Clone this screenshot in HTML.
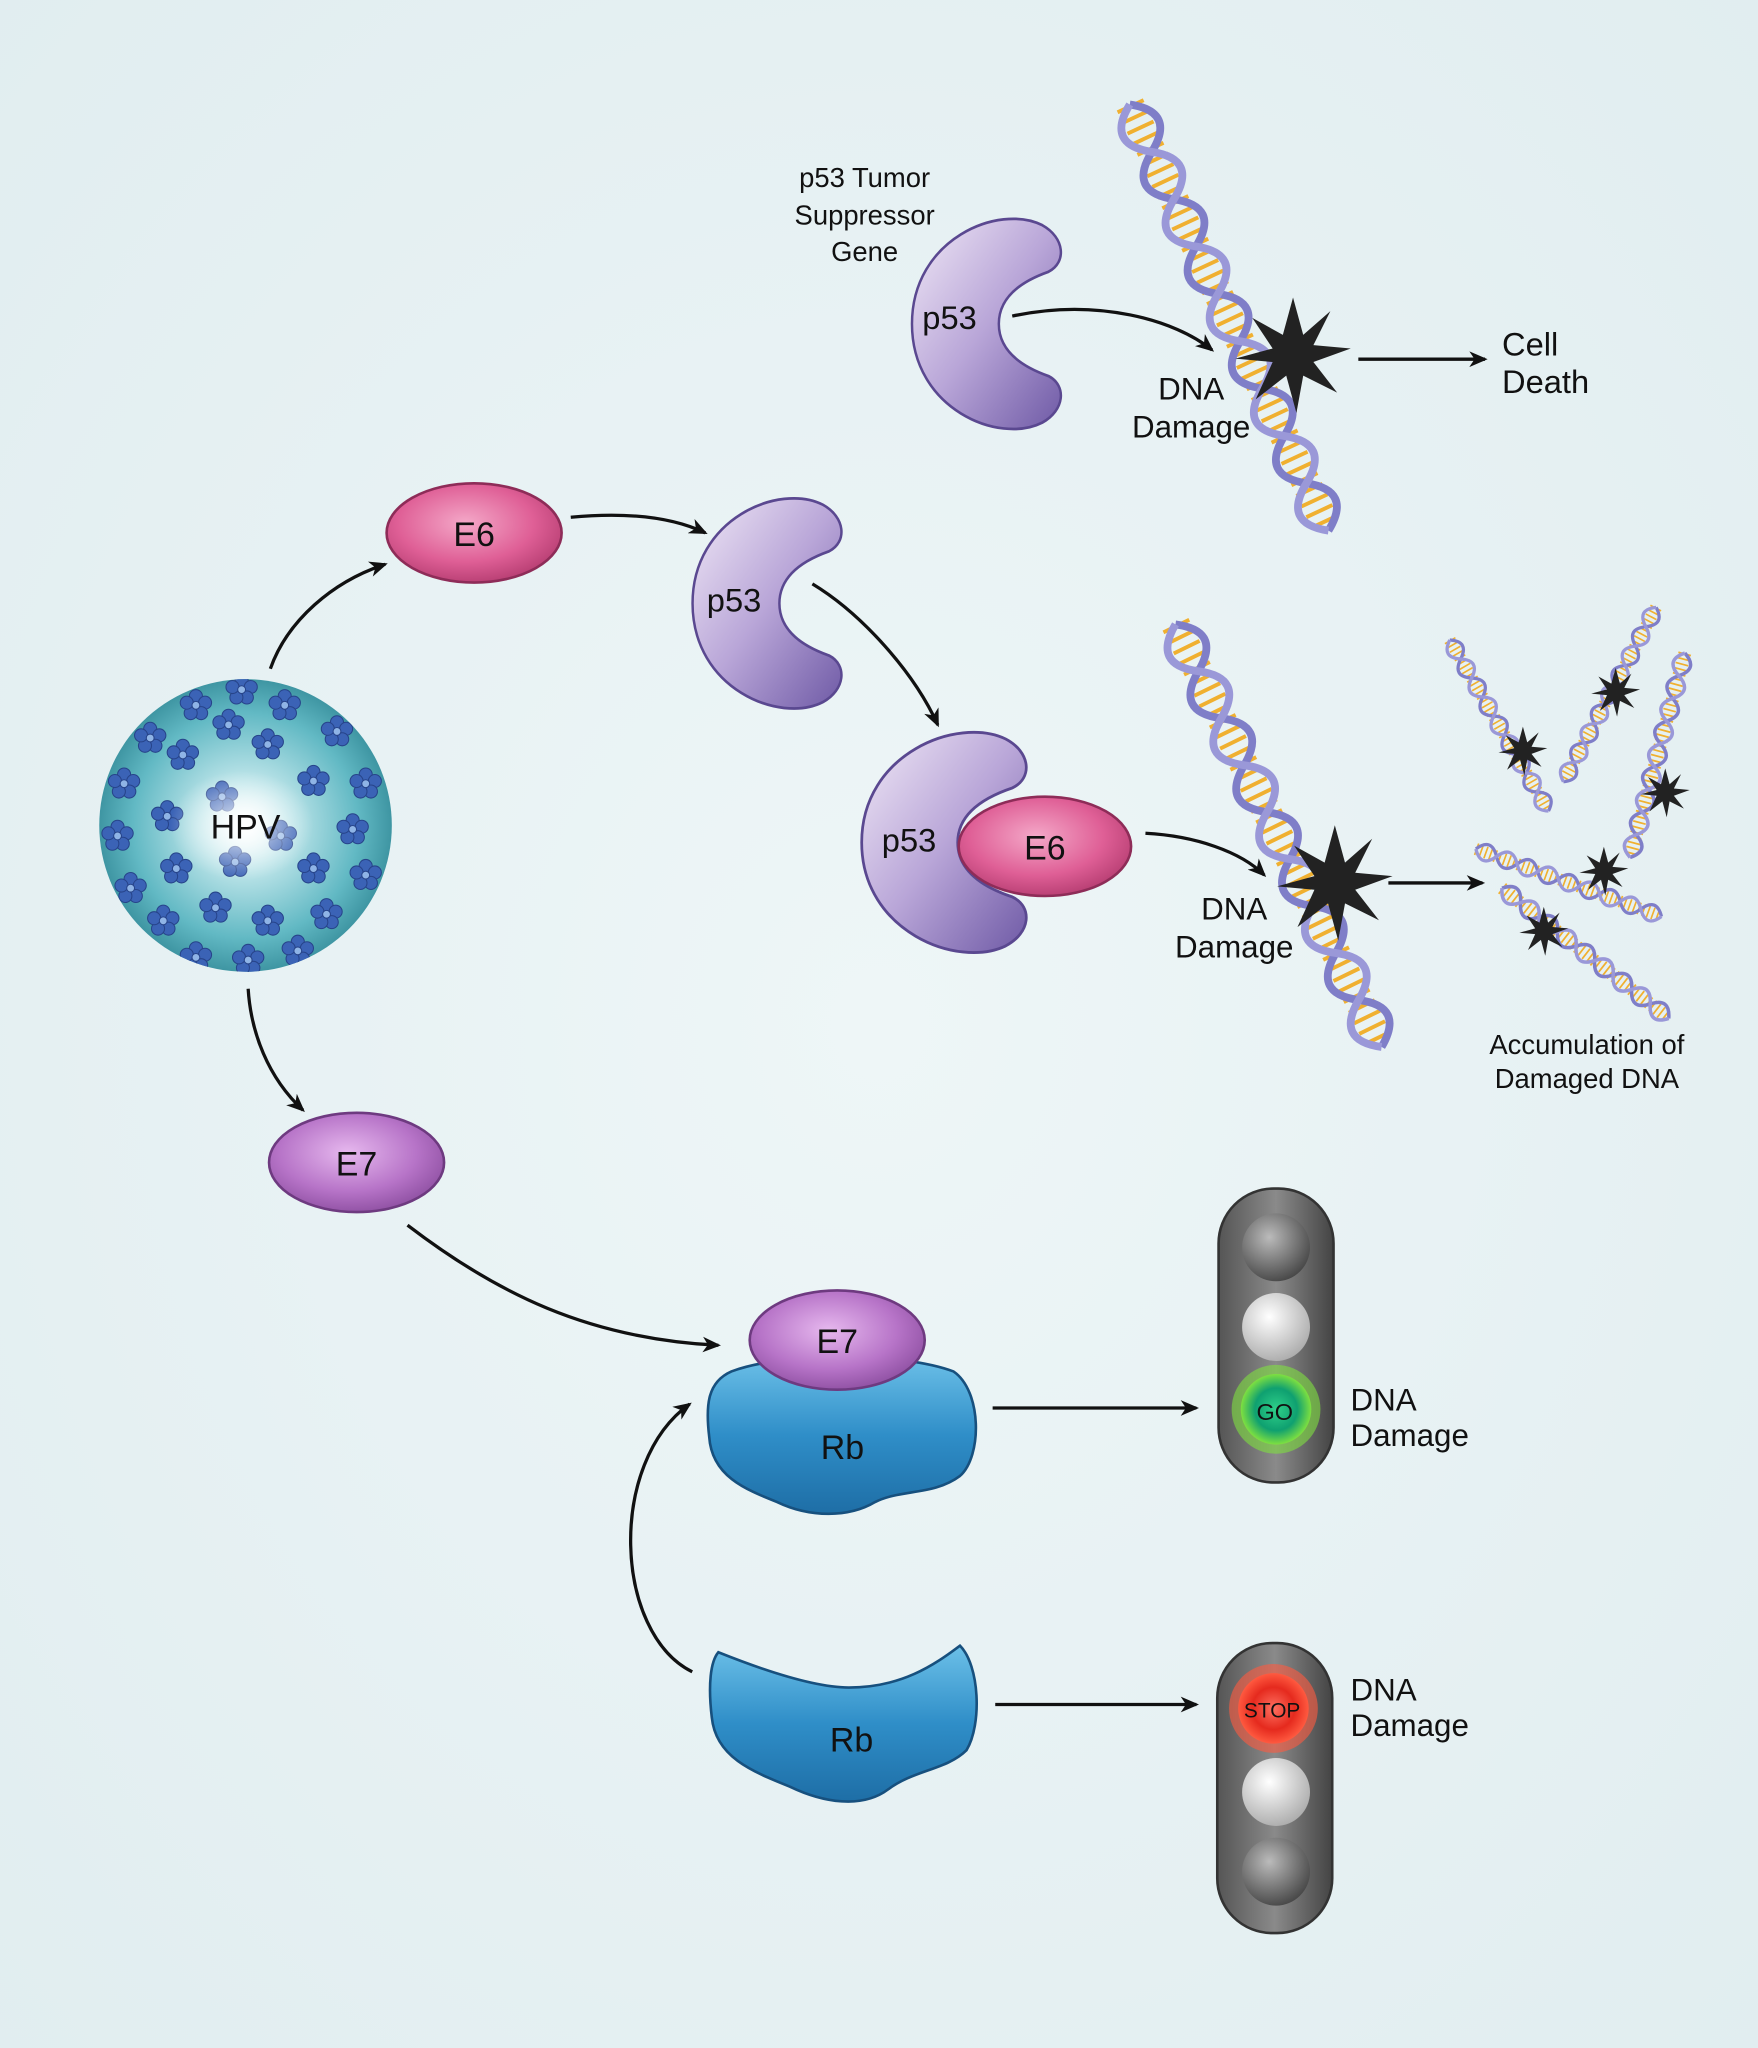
<!DOCTYPE html>
<html><head><meta charset="utf-8"><style>
html,body{margin:0;padding:0;background:#e7f1f3}
svg{display:block}
text{font-family:"Liberation Sans",sans-serif;fill:#111}
</style></head><body>
<svg width="1758" height="2048" viewBox="0 0 1346 1568" preserveAspectRatio="none" xmlns="http://www.w3.org/2000/svg">
<defs>
<radialGradient id="bg" cx="0.5" cy="0.5" r="0.8"><stop offset="0" stop-color="#eef6f7"/><stop offset="1" stop-color="#dfecef"/></radialGradient>
<linearGradient id="pg" x1="0" y1="0" x2="1" y2="1"><stop offset="0" stop-color="#f0e8f6"/><stop offset="0.5" stop-color="#b9a6d8"/><stop offset="1" stop-color="#6f5aa6"/></linearGradient>
<radialGradient id="e6g" cx="0.45" cy="0.4" r="0.65"><stop offset="0" stop-color="#f4a8c8"/><stop offset="0.6" stop-color="#df5f96"/><stop offset="1" stop-color="#b23a6e"/></radialGradient>
<radialGradient id="e7g" cx="0.45" cy="0.4" r="0.65"><stop offset="0" stop-color="#e6b8ee"/><stop offset="0.6" stop-color="#b774c8"/><stop offset="1" stop-color="#8a4c9e"/></radialGradient>
<linearGradient id="rbg" x1="0" y1="0" x2="0" y2="1"><stop offset="0" stop-color="#6cc0e8"/><stop offset="0.5" stop-color="#2f8ec8"/><stop offset="1" stop-color="#1e6ea6"/></linearGradient>
<radialGradient id="hpv" cx="0.5" cy="0.5" r="0.55"><stop offset="0" stop-color="#ffffff"/><stop offset="0.25" stop-color="#c4e8ec"/><stop offset="0.7" stop-color="#62b9c4"/><stop offset="1" stop-color="#2f8694"/></radialGradient>
<radialGradient id="blob" cx="0.5" cy="0.5" r="0.5"><stop offset="0" stop-color="#fff" stop-opacity="0.9"/><stop offset="1" stop-color="#fff" stop-opacity="0"/></radialGradient>
<linearGradient id="tl" x1="0" y1="0" x2="1" y2="0"><stop offset="0" stop-color="#555"/><stop offset="0.5" stop-color="#8a8a8a"/><stop offset="1" stop-color="#444"/></linearGradient>
<radialGradient id="grey" cx="0.4" cy="0.35" r="0.7"><stop offset="0" stop-color="#bbb"/><stop offset="1" stop-color="#444"/></radialGradient>
<radialGradient id="white" cx="0.4" cy="0.35" r="0.7"><stop offset="0" stop-color="#fff"/><stop offset="1" stop-color="#aaa"/></radialGradient>
<radialGradient id="green" cx="0.5" cy="0.5" r="0.5"><stop offset="0" stop-color="#2fd08a"/><stop offset="0.6" stop-color="#0fa070"/><stop offset="1" stop-color="#7ee040"/></radialGradient>
<radialGradient id="red" cx="0.5" cy="0.5" r="0.5"><stop offset="0" stop-color="#ff7060"/><stop offset="0.6" stop-color="#e52a1e"/><stop offset="1" stop-color="#ff5a40"/></radialGradient>
<marker id="ah" markerWidth="14" markerHeight="12" refX="12" refY="6" orient="auto" markerUnits="userSpaceOnUse"><path d="M0,0 L14,6 L0,12 L4,6 Z" fill="#111"/></marker>
<g id="helix">
<line x1="0" y1="0" x2="360" y2="0" stroke="#f0b030" stroke-width="22" stroke-dasharray="3 6"/>
<path d="M0,0 Q20,-30 40,0 T80,0 T120,0 T160,0 T200,0 T240,0 T280,0 T320,0 T360,0" fill="none" stroke="#7f7ec8" stroke-width="6"/>
<path d="M0,0 Q20,30 40,0 T80,0 T120,0 T160,0 T200,0 T240,0 T280,0 T320,0 T360,0" fill="none" stroke="#9a98d8" stroke-width="6"/>
</g>
<polygon id="star" points="0,-34 6,-12 22,-26 12,-6 34,-4 12,4 26,22 6,12 2,34 -4,12 -22,26 -12,4 -34,2 -12,-4 -24,-22 -6,-12" fill="#222"/>
<path id="p53" d="M40,-72 C5,-88 -65,-62 -65,0 C-65,62 5,88 40,72 C58,63 60,45 45,38 C20,30 5,18 5,0 C5,-18 20,-30 45,-38 C60,-45 58,-63 40,-72 Z" fill="url(#pg)" stroke="#5a4890" stroke-width="2"/>
<g id="flw"><circle cx="0" cy="-7" r="5"/><circle cx="7" cy="-2" r="5"/><circle cx="4" cy="6" r="5"/><circle cx="-4" cy="6" r="5"/><circle cx="-7" cy="-2" r="5"/><circle cx="0" cy="0" r="3" fill="#8fb4e6"/></g>
<clipPath id="hc"><circle cx="188" cy="632" r="112"/></clipPath>
</defs>
<rect width="1346" height="1568" fill="url(#bg)"/>

<text x="662" y="143" font-size="21" text-anchor="middle">p53 Tumor</text>
<text x="662" y="172" font-size="21" text-anchor="middle">Suppressor</text>
<text x="662" y="200" font-size="21" text-anchor="middle">Gene</text>
<use href="#p53" transform="translate(760,248) scale(0.95,1.05)"/>
<text x="727" y="252" font-size="25" text-anchor="middle">p53</text>
<path d="M775,242 C840,228 900,245 928,268" fill="none" stroke="#111" stroke-width="2.5" marker-end="url(#ah)"/>
<use href="#helix" transform="translate(865,80) rotate(65)"/>
<use href="#star" transform="translate(990,272) scale(1.3)"/>
<text x="912" y="306" font-size="24" text-anchor="middle">DNA</text>
<text x="912" y="335" font-size="24" text-anchor="middle">Damage</text>
<line x1="1040" y1="275" x2="1137" y2="275" stroke="#111" stroke-width="2.5" marker-end="url(#ah)"/>
<text x="1150" y="272" font-size="25">Cell</text>
<text x="1150" y="301" font-size="25">Death</text>

<ellipse cx="363" cy="408" rx="67" ry="38" fill="url(#e6g)" stroke="#8e2c58" stroke-width="2"/>
<text x="363" y="418" font-size="26" text-anchor="middle">E6</text>
<path d="M437,396 C480,392 515,396 540,408" fill="none" stroke="#111" stroke-width="2.5" marker-end="url(#ah)"/>
<use href="#p53" transform="translate(592,462) scale(0.95,1.05)"/>
<text x="562" y="468" font-size="25" text-anchor="middle">p53</text>
<path d="M622,447 C660,470 700,515 718,555" fill="none" stroke="#111" stroke-width="2.5" marker-end="url(#ah)"/>

<use href="#p53" transform="translate(728,645) scale(1.05,1.1)"/>
<text x="696" y="652" font-size="25" text-anchor="middle">p53</text>
<ellipse cx="800" cy="648" rx="66" ry="38" fill="url(#e6g)" stroke="#8e2c58" stroke-width="2"/>
<text x="800" y="658" font-size="26" text-anchor="middle">E6</text>
<path d="M877,638 C915,640 950,652 968,670" fill="none" stroke="#111" stroke-width="2.5" marker-end="url(#ah)"/>
<use href="#helix" transform="translate(900,478) rotate(64)"/>
<use href="#star" transform="translate(1022,676) scale(1.3)"/>
<text x="945" y="704" font-size="24" text-anchor="middle">DNA</text>
<text x="945" y="733" font-size="24" text-anchor="middle">Damage</text>
<line x1="1063" y1="676" x2="1135" y2="676" stroke="#111" stroke-width="2.5" marker-end="url(#ah)"/>

<use href="#helix" transform="translate(1110,490) rotate(60) scale(0.42)"/>
<use href="#star" transform="translate(1166,575) scale(0.55)"/>
<use href="#helix" transform="translate(1268,465) rotate(118) scale(0.42)"/>
<use href="#star" transform="translate(1237,530) scale(0.55)"/>
<use href="#helix" transform="translate(1290,500) rotate(105) scale(0.45)"/>
<use href="#star" transform="translate(1275,607) scale(0.55)"/>
<use href="#helix" transform="translate(1130,650) rotate(20) scale(0.42)"/>
<use href="#star" transform="translate(1228,667) scale(0.55)"/>
<use href="#helix" transform="translate(1150,680) rotate(38) scale(0.45)"/>
<use href="#star" transform="translate(1182,713) scale(0.55)"/>
<text x="1215" y="807" font-size="21" text-anchor="middle">Accumulation of</text>
<text x="1215" y="833" font-size="21" text-anchor="middle">Damaged DNA</text>

<circle cx="188" cy="632" r="112" fill="url(#hpv)"/>
<g clip-path="url(#hc)" fill="#3b63b6" stroke="#27448a" stroke-width="0.8">
<use href="#flw" x="150" y="540"/><use href="#flw" x="185" y="528"/><use href="#flw" x="218" y="540"/><use href="#flw" x="115" y="565"/><use href="#flw" x="258" y="560"/>
<use href="#flw" x="95" y="600"/><use href="#flw" x="140" y="578"/><use href="#flw" x="205" y="570"/><use href="#flw" x="240" y="598"/><use href="#flw" x="280" y="600"/>
<use href="#flw" x="90" y="640"/><use href="#flw" x="128" y="625"/><use href="#flw" x="270" y="635"/><use href="#flw" x="100" y="680"/><use href="#flw" x="135" y="665"/>
<use href="#flw" x="240" y="665"/><use href="#flw" x="280" y="670"/><use href="#flw" x="125" y="705"/><use href="#flw" x="165" y="695"/><use href="#flw" x="205" y="705"/>
<use href="#flw" x="250" y="700"/><use href="#flw" x="150" y="733"/><use href="#flw" x="190" y="735"/><use href="#flw" x="228" y="728"/><use href="#flw" x="175" y="555"/><use href="#flw" x="265" y="528"/>
<use href="#flw" x="170" y="610"/><use href="#flw" x="215" y="640"/><use href="#flw" x="180" y="660"/>
</g>
<ellipse cx="185" cy="632" rx="55" ry="42" fill="url(#blob)"/>
<text x="188" y="642" font-size="26" text-anchor="middle">HPV</text>
<path d="M207,512 C220,475 255,445 295,432" fill="none" stroke="#111" stroke-width="2.5" marker-end="url(#ah)"/>
<path d="M190,757 C192,790 205,825 232,850" fill="none" stroke="#111" stroke-width="2.5" marker-end="url(#ah)"/>

<ellipse cx="273" cy="890" rx="67" ry="38" fill="url(#e7g)" stroke="#6e3a80" stroke-width="2"/>
<text x="273" y="900" font-size="26" text-anchor="middle">E7</text>
<path d="M312,938 C380,990 450,1025 550,1030" fill="none" stroke="#111" stroke-width="2.5" marker-end="url(#ah)"/>

<path d="M560,1050 C600,1035 690,1035 730,1050 C752,1065 752,1115 735,1130 C715,1145 690,1140 670,1150 C650,1162 620,1162 595,1150 C570,1140 545,1130 543,1100 C540,1075 542,1058 560,1050 Z" fill="url(#rbg)" stroke="#17507e" stroke-width="2"/>
<text x="645" y="1117" font-size="26" text-anchor="middle">Rb</text>
<ellipse cx="641" cy="1026" rx="67" ry="38" fill="url(#e7g)" stroke="#6e3a80" stroke-width="2"/>
<text x="641" y="1036" font-size="26" text-anchor="middle">E7</text>
<line x1="760" y1="1078" x2="916" y2="1078" stroke="#111" stroke-width="2.5" marker-end="url(#ah)"/>

<rect x="933" y="910" width="88" height="225" rx="42" fill="url(#tl)" stroke="#333" stroke-width="2"/>
<circle cx="977" cy="955" r="26" fill="url(#grey)"/>
<circle cx="977" cy="1016" r="26" fill="url(#white)"/>
<circle cx="977" cy="1079" r="34" fill="#7ee040" opacity="0.6"/>
<circle cx="977" cy="1079" r="27" fill="url(#green)"/>
<text x="976" y="1087" font-size="18" text-anchor="middle">GO</text>
<text x="1034" y="1080" font-size="24">DNA</text>
<text x="1034" y="1107" font-size="24">Damage</text>

<path d="M530,1280 C470,1250 465,1120 528,1075" fill="none" stroke="#111" stroke-width="2.5" marker-end="url(#ah)"/>

<path d="M550,1265 C575,1275 620,1292 650,1292 C690,1292 715,1275 735,1260 C750,1275 752,1320 740,1340 C725,1355 700,1355 680,1370 C660,1385 630,1380 605,1368 C575,1356 548,1345 545,1315 C542,1290 544,1272 550,1265 Z" fill="url(#rbg)" stroke="#17507e" stroke-width="2"/>
<text x="652" y="1341" font-size="26" text-anchor="middle">Rb</text>
<line x1="762" y1="1305" x2="916" y2="1305" stroke="#111" stroke-width="2.5" marker-end="url(#ah)"/>

<rect x="932" y="1258" width="88" height="222" rx="42" fill="url(#tl)" stroke="#333" stroke-width="2"/>
<circle cx="975" cy="1308" r="34" fill="#ff5a40" opacity="0.6"/>
<circle cx="975" cy="1308" r="27" fill="url(#red)"/>
<text x="974" y="1315" font-size="16" text-anchor="middle">STOP</text>
<circle cx="977" cy="1372" r="26" fill="url(#white)"/>
<circle cx="977" cy="1433" r="26" fill="url(#grey)"/>
<text x="1034" y="1302" font-size="24">DNA</text>
<text x="1034" y="1329" font-size="24">Damage</text>
</svg>
</body></html>
